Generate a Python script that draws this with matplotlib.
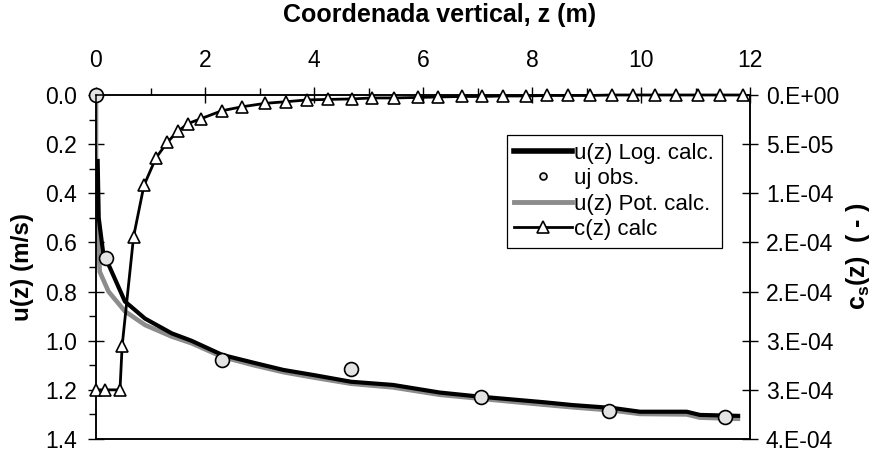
import numpy as np
import matplotlib.pyplot as plt
from matplotlib.lines import Line2D
from matplotlib.ticker import MultipleLocator, FixedLocator

plt.rcParams['font.family'] = ['Liberation Sans', 'DejaVu Sans']
plt.rcParams['mathtext.fontset'] = 'custom'
plt.rcParams['mathtext.rm'] = 'Liberation Sans:bold'
plt.rcParams['mathtext.it'] = 'Liberation Sans:bold'

# velocity profile, logarithmic fit
z_log = [0.03, 0.05, 0.13, 0.29, 0.53, 0.90, 1.39, 1.75, 2.32, 2.90, 3.44, 4.00,
         4.68, 5.45, 6.31, 7.06, 7.53, 8.20, 8.75, 9.49, 9.98, 10.84, 11.08, 11.82]
u_log = [0.26, 0.50, 0.64, 0.72, 0.84, 0.91, 0.97, 1.00, 1.058, 1.09, 1.119, 1.14,
         1.167, 1.18, 1.211, 1.228, 1.237, 1.25, 1.262, 1.274, 1.289, 1.289, 1.302, 1.306]

# velocity profile, power-law fit
z_pot = [0.0, 0.0, 0.04, 0.07, 0.23, 0.53, 0.90, 1.39, 1.75, 2.32, 2.90, 3.44, 4.00,
         4.68, 5.45, 6.31, 7.06, 7.53, 8.20, 8.75, 9.49, 9.98, 10.84, 11.08, 11.82]
u_pot = [0.0, 0.50, 0.61, 0.72, 0.80, 0.88, 0.936, 0.983, 1.01, 1.066, 1.10, 1.128, 1.15,
         1.175, 1.19, 1.22, 1.236, 1.246, 1.26, 1.271, 1.284, 1.298, 1.30, 1.313, 1.318]

# measured velocities
z_obs = [0.0, 0.19, 2.32, 4.68, 7.06, 9.41, 11.55]
u_obs = [0.0, 0.665, 1.078, 1.115, 1.229, 1.286, 1.309]

# suspended sediment concentration
z_c = [0.0, 0.17, 0.44, 0.48, 0.69, 0.88, 1.10, 1.31, 1.50, 1.69, 1.93, 2.31, 2.68,
       3.10, 3.49, 3.88, 4.26, 4.69, 5.07, 5.46, 5.90, 6.28, 6.71, 7.09, 7.47, 7.89,
       8.27, 8.66, 9.06, 9.46, 9.85, 10.26, 10.65, 11.05, 11.45, 11.87]
c_calc = [30.0e-5, 30.0e-5, 30.0e-5, 25.5e-5, 14.4e-5, 9.2e-5, 6.4e-5, 4.8e-5, 3.7e-5,
          2.9e-5, 2.4e-5, 1.6e-5, 1.2e-5, 0.85e-5, 0.68e-5, 0.5e-5, 0.45e-5, 0.4e-5,
          0.3e-5, 0.3e-5, 0.25e-5, 0.2e-5, 0.15e-5, 0.15e-5, 0.1e-5, 0.1e-5, 0.05e-5,
          0.05e-5, 0.05e-5, 0.0, 0.0, 0.0, 0.0, 0.0, 0.0, 0.0]

c_ticks = [0.0, 5e-5, 1e-4, 1.5e-4, 2e-4, 2.5e-4, 3e-4, 3.5e-4]
c_ticklabels = ['0.E+00', '5.E-05', '1.E-04', '2.E-04', '2.E-04', '3.E-04', '3.E-04', '4.E-04']

fig = plt.figure(figsize=(8.81, 4.55), dpi=100)
ax = fig.add_axes([96 / 881, 1 - 439 / 455, 654 / 881, 344 / 455])

ax.plot(z_pot, u_pot, color='#8c8c8c', lw=3.3, solid_capstyle='butt', zorder=2)
ax.plot(z_log, u_log, color='black', lw=3.0, solid_capstyle='butt', zorder=3)
ax.plot(z_obs, u_obs, ls='none', marker='o', ms=10, mfc='#e3e3e3', mec='black',
        mew=1.2, zorder=4, clip_on=False)

ax.set_xlim(0, 12)
ax.set_ylim(1.4, 0)
ax.xaxis.tick_top()
ax.xaxis.set_label_position('top')
ax.xaxis.set_major_locator(MultipleLocator(2))
ax.xaxis.set_minor_locator(MultipleLocator(1))
ax.yaxis.set_major_locator(MultipleLocator(0.2))
ax.yaxis.set_minor_locator(MultipleLocator(0.1))
ax.yaxis.set_major_formatter(plt.FormatStrFormatter('%.1f'))

ax.tick_params(axis='x', which='major', top=True, bottom=False, direction='inout',
               length=11, width=1, pad=11, labelsize=16.5)
ax.tick_params(axis='x', which='minor', top=True, bottom=False, direction='out',
               length=5, width=1)
ax.tick_params(axis='y', which='major', direction='inout', length=11, width=1,
               pad=8, labelsize=16.5)
ax.tick_params(axis='y', which='minor', direction='out', length=5, width=1)

for sp in ax.spines.values():
    sp.set_linewidth(1.1)

ax.set_xlabel('Coordenada vertical, z (m)', fontsize=18, fontweight='bold')
ax.xaxis.set_label_coords(0.526, 1.233)
ax.xaxis.label.set_va('center')
ax.set_ylabel('u(z) (m/s)', fontsize=17.5, fontweight='bold')
ax.yaxis.set_label_coords(-0.113, 0.5)
ax.yaxis.label.set_va('center')

ax2 = ax.twinx()
ax2.plot(z_c, c_calc, color='black', lw=2.0, marker='^', ms=8.5, mfc='white',
         mec='black', mew=1.2, zorder=3, clip_on=False)
ax2.set_ylim(3.5e-4, 0)
ax2.yaxis.set_major_locator(FixedLocator(c_ticks))
ax2.set_yticklabels(c_ticklabels)
ax2.tick_params(axis='y', which='major', direction='inout', length=11, width=1,
                pad=6, labelsize=16.5)
for sp in ax2.spines.values():
    sp.set_linewidth(1.1)
ax2.set_ylabel('c$_s$(z)  ( - )', fontsize=18, fontweight='bold')
ax2.yaxis.set_label_coords(1.165, 0.53)
ax2.yaxis.label.set_va('center')

handles = [
    Line2D([], [], color='black', lw=4),
    Line2D([], [], ls='none', marker='o', ms=5, mfc='#e3e3e3', mec='black', mew=1.2),
    Line2D([], [], color='#8c8c8c', lw=3.5),
    Line2D([], [], color='black', lw=2.0, marker='^', ms=8.5, mfc='white', mec='black', mew=1.2),
]
labels = ['u(z) Log. calc.', 'uj obs.', 'u(z) Pot. calc.', 'c(z) calc']
leg = ax2.legend(handles, labels, loc='upper left', bbox_to_anchor=(0.628, 0.884),
                 borderaxespad=0, fontsize=16, frameon=True, fancybox=False,
                 edgecolor='black', framealpha=1, handlelength=2.6,
                 handletextpad=0.1, labelspacing=0.2, borderpad=0.35)
leg.get_frame().set_linewidth(0.9)

fig.savefig('out.png', dpi=100)
